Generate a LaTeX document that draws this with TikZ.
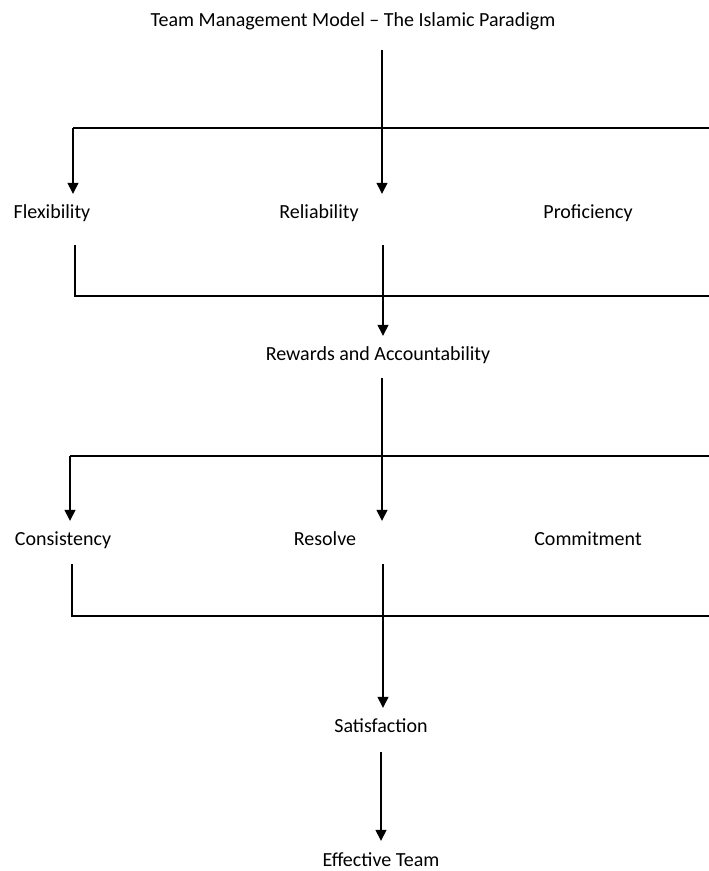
\documentclass[tikz,border=0pt]{standalone}
\usepackage{fontspec}
\setmainfont{Carlito}
\usepackage{tikz}
\usetikzlibrary{arrows.meta}

\begin{document}
\begin{tikzpicture}[x=1pt, y=-1pt,
		label_style/.style={font=\fontsize{20}{24}\selectfont, inner sep=0pt, text height=13pt, text depth=5pt, anchor=base},
		line_style/.style={draw=black, line width=1.3pt},
		arrow_style/.style={line_style, -{Triangle[length=11pt,width=11pt]}, shorten >=11pt}]
		
		\useasboundingbox (0,0) rectangle (709,871);
		
		\node[label_style] (title) at (353,26) {Team Management Model – The Islamic Paradigm};
		\node[label_style] (flex) at (52,218) {Flexibility};
		\node[label_style] (rel) at (319,218) {Reliability};
		\node[label_style] (prof) at (588,218) {Proficiency};
		\node[label_style] (rew) at (378,360) {Rewards and Accountability};
		\node[label_style] (cons) at (63,545) {Consistency};
		\node[label_style] (res) at (325,545) {Resolve};
		\node[label_style] (com) at (588,545) {Commitment};
		\node[label_style] (sat) at (381,732) {Satisfaction};
		\node[label_style] (eff) at (381,866) {Effective Team};
		
		\coordinate (b1l) at (73,128);
		\coordinate (b1m) at (382,128);
		\coordinate (b1r) at (709,128);
		\coordinate (b2l) at (75,296);
		\coordinate (b2m) at (383,296);
		\coordinate (b2r) at (709,296);
		\coordinate (b3l) at (70,456);
		\coordinate (b3m) at (382,456);
		\coordinate (b3r) at (709,456);
		\coordinate (b4l) at (72,616);
		\coordinate (b4m) at (383,616);
		\coordinate (b4r) at (709,616);
		
		\draw[arrow_style, shorten <=19pt] (title.south -| b1m) -- (b1m |- rel.north);
		\draw[line_style] (b1l) -- (b1r);
		\draw[arrow_style] (b1l) -- (b1l |- flex.north);
		
		\draw[line_style, shorten <=22pt] (b2l |- flex.south) -- (b2l) -- (b2r);
		\draw[arrow_style, shorten <=22pt] (b2m |- rel.south) -- (b2m |- rew.north);
		
		\draw[arrow_style, shorten <=13pt] (b3m |- rew.south) -- (b3m |- res.north);
		\draw[line_style] (b3l) -- (b3r);
		\draw[arrow_style] (b3l) -- (b3l |- cons.north);
		
		\draw[line_style, shorten <=14pt] (b4l |- cons.south) -- (b4l) -- (b4r);
		\draw[arrow_style, shorten <=14pt] (b4m |- res.south) -- (b4m |- sat.north);
		\draw[arrow_style, shorten <=15pt, shorten >=12pt] (sat.south) -- (eff.north);
		
\end{tikzpicture}
\end{document}
